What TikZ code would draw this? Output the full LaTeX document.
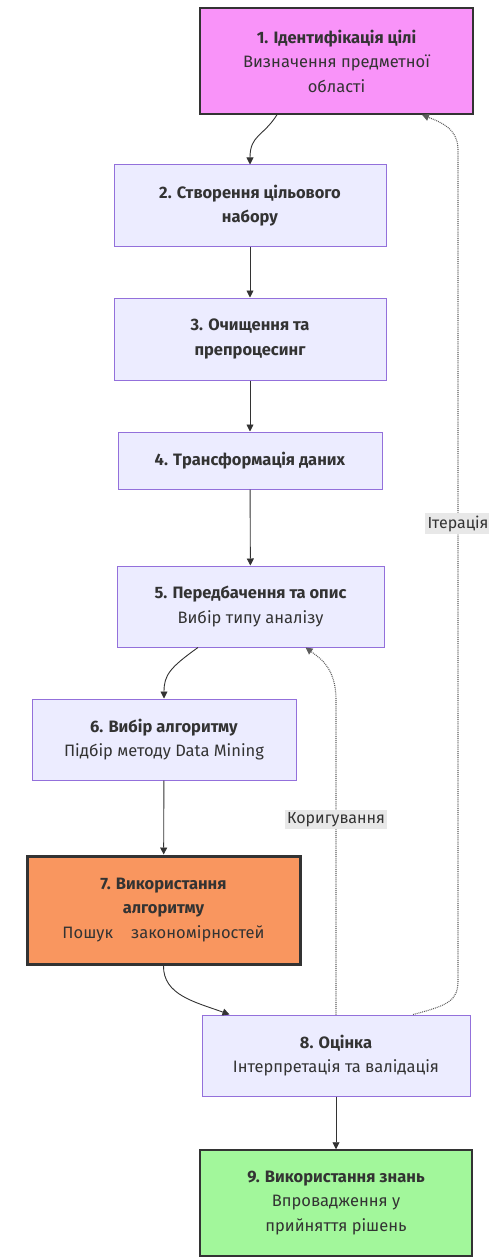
\documentclass[tikz,border=0pt]{standalone}
\usepackage{fontspec}
\setmainfont{Fira Sans}
\usetikzlibrary{positioning, arrows.meta, calc}

\definecolor{boxfill}{HTML}{ECECFF}
\definecolor{boxline}{HTML}{9370DB}
\definecolor{goalfill}{HTML}{F993F9}
\definecolor{minefill}{HTML}{F9965F}
\definecolor{usefill}{HTML}{A2F79B}
\definecolor{ink}{HTML}{333333}
\definecolor{tagfill}{HTML}{E8E8E8}

\begin{document}
\begin{tikzpicture}[x=1pt, y=-1pt,
    stage/.style={draw=boxline, line width=1pt, fill=boxfill, text=ink, align=center,
      inner sep=0pt, font=\fontsize{16.5}{24.5}\selectfont},
    keystage/.style={stage, draw=ink, line width=1.5pt},
    flow/.style={-{Triangle[length=7pt, width=7pt]}, draw=ink, line width=0.9pt},
    loopback/.style={flow, densely dotted, line width=1.1pt, draw=ink!80},
    tag/.style={fill=tagfill, text=ink, inner sep=2.5pt, font=\fontsize{16}{18}\selectfont}]
      \useasboundingbox (0, 0) rectangle (488, 1260);

      % Stages
      \node[keystage, fill=goalfill, minimum width=273pt, minimum height=106pt] (goal) at (336.5, 61)
        {\textbf{1. Ідентифікація цілі}\\Визначення предметної\\області};
      \node[stage, minimum width=272pt, minimum height=81pt] (target) at (250, 205.5)
        {\textbf{2. Створення цільового}\\\textbf{набору}};
      \node[stage, minimum width=272pt, minimum height=82pt] (clean) at (250, 339)
        {\textbf{3. Очищення та}\\\textbf{препроцесинг}};
      \node[stage, minimum width=264pt, minimum height=57pt] (transform) at (250, 460.5)
        {\textbf{4. Трансформація даних}};
      \node[stage, minimum width=267pt, minimum height=81pt] (predict) at (250.5, 606.5)
        {\textbf{5. Передбачення та опис}\\Вибір типу аналізу};
      \node[stage, minimum width=264pt, minimum height=81pt] (choose) at (164, 739.5)
        {\textbf{6. Вибір алгоритму}\\Підбір методу Data Mining};
      \node[keystage, fill=minefill, line width=3pt, minimum width=273pt, minimum height=108pt] (mine) at (163.5, 910)
        {\textbf{7. Використання}\\\textbf{алгоритму}\\Пошук\hspace{1.1em}закономірностей};
      \node[stage, minimum width=268pt, minimum height=81pt] (evaluate) at (336, 1055.5)
        {\textbf{8. Оцінка}\\Інтерпретація та валідація};
      \node[keystage, fill=usefill, minimum width=272pt, minimum height=106pt] (apply) at (336, 1203)
        {\textbf{9. Використання знань}\\Впровадження у\\прийняття рішень};

      % Main flow
      \draw[flow] ($(goal.south)+(-59.5, 0)$) .. controls +(-14, 22) and (250, 135) .. (target.north);
      \draw[flow] (target) -- (clean);
      \draw[flow] (clean) -- (transform);
      \draw[flow] (transform) -- (predict);
      \draw[flow] ($(predict.south)+(-52.5, 0)$) .. controls +(-28, 20) and (164, 675) .. (choose.north);
      \draw[flow] (choose) -- (mine);
      \draw[flow] (mine.south) .. controls (163, 995) and (195, 1002) .. ($(evaluate.north west)+(28, 0)$);
      \draw[flow] (evaluate) -- (apply);

      % Feedback loops
      \draw[loopback] (evaluate.north) -- node[tag, pos=0.62] (fix) {Коригування} (336, 700)
        .. controls (336, 668) and (320, 658) .. ($(predict.south)+(55, 0)$);
      \draw[loopback] ($(evaluate.north)+(77, 0)$) .. controls (450, 1005) and (458, 1000) .. (458, 980)
        -- node[tag, pos=0.55] (iter) {Ітерація} (458, 150)
        .. controls (458, 128) and (440, 122) .. ($(goal.south)+(85.5, 0)$);
    \end{tikzpicture}
\end{document}
